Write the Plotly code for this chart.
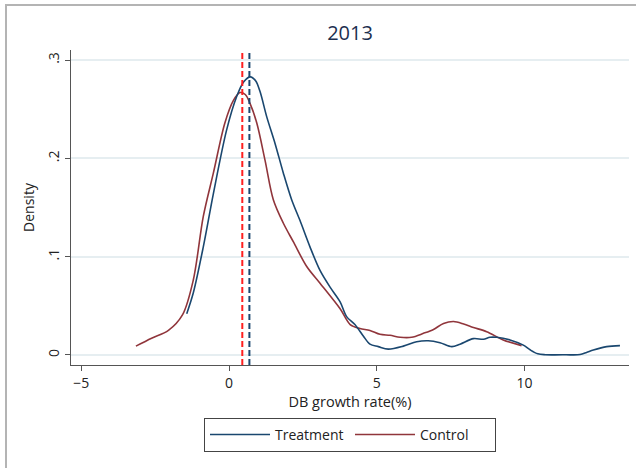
import plotly.graph_objects as go

# ---- data ----
treat_x = [-1.43, -1.21, -0.87, -0.53, -0.08, 0.26, 0.50, 0.72, 0.90, 1.05, 1.28, 1.56, 1.84,
           2.12, 2.40, 2.74, 3.08, 3.42, 3.76, 3.98, 4.26, 4.55, 4.77, 5.05, 5.39, 5.90,
           6.35, 6.74, 7.14, 7.54, 7.82, 8.27, 8.61, 8.83, 9.06, 9.51, 9.96, 10.20, 10.45,
           10.7, 11.4, 11.88, 12.10, 12.33, 12.78, 13.23]
treat_y = [0.042, 0.063, 0.110, 0.164, 0.229, 0.263, 0.278, 0.283, 0.279, 0.268, 0.242, 0.215,
           0.185, 0.158, 0.137, 0.110, 0.086, 0.069, 0.054, 0.039, 0.031, 0.019, 0.011, 0.0085,
           0.006, 0.009, 0.0135, 0.0145, 0.0125, 0.0085, 0.011, 0.0166, 0.016, 0.018, 0.018,
           0.0153, 0.010, 0.005, 0.0012, 0.0003, 0.0002, 0.0004, 0.0025, 0.005, 0.0085, 0.0095]

ctrl_x = [-3.15, -2.62, -2.05, -1.57, -1.21, -0.87, -0.53, -0.14, 0.15, 0.37, 0.55, 0.71,
          0.94, 1.22, 1.50, 1.84, 2.18, 2.63, 3.08, 3.76, 4.10, 4.43, 4.77, 5.11, 5.45,
          5.79, 6.18, 6.58, 6.92, 7.26, 7.60, 7.94, 8.27, 8.72, 9.28, 9.90]
ctrl_y = [0.009, 0.017, 0.025, 0.041, 0.076, 0.141, 0.185, 0.236, 0.259, 0.267, 0.265, 0.256,
          0.236, 0.198, 0.158, 0.134, 0.115, 0.090, 0.073, 0.047, 0.031, 0.027, 0.025, 0.021,
          0.020, 0.018, 0.018, 0.022, 0.026, 0.032, 0.034, 0.0315, 0.028, 0.0237, 0.0153,
          0.0095]

means = {"Control": 0.45, "Treatment": 0.69}
y_ticks = [0, 0.1, 0.2, 0.3]
y_tick_text = ["0", ".1", ".2", ".3"]
x_ticks = [-5, 0, 5, 10]
x_tick_text = ["\u22125", "0", "5", "10"]

NAVY = "#1a476f"
MAROON = "#90353b"
FONT = "Open Sans"

fig = go.Figure()
fig.add_trace(go.Scatter(x=ctrl_x, y=ctrl_y, mode="lines", name="Control",
                         line=dict(color=MAROON, width=1.6, shape="spline", smoothing=0.9),
                         legendrank=2))
fig.add_trace(go.Scatter(x=treat_x, y=treat_y, mode="lines", name="Treatment",
                         line=dict(color=NAVY, width=1.6, shape="spline", smoothing=0.9),
                         legendrank=1))

fig.add_vline(x=means["Control"], line=dict(color="#ff2020", width=2, dash="6px,3px"))
fig.add_vline(x=means["Treatment"], line=dict(color=NAVY, width=2, dash="6px,3px"))

# outer frame of the exported graph
fig.add_shape(type="rect", xref="paper", yref="paper",
              x0=-0.1165, x1=1.2, y0=-0.5, y1=1.1429,
              line=dict(color="#b4b4b4", width=2), layer="below")

fig.update_layout(
    width=636, height=468,
    margin=dict(l=71, r=7, t=50, b=103),
    paper_bgcolor="white", plot_bgcolor="white",
    font=dict(family=FONT, size=14, color="#222"),
    title=dict(text="2013", x=0.5, xref="paper", xanchor="center",
               y=1 - 33 / 468, yanchor="middle",
               font=dict(family=FONT, size=20, color="#1c2f4f")),
    showlegend=True,
    legend=dict(orientation="h", x=0.5, xanchor="center", y=-0.168, yanchor="top",
                bordercolor="#444", borderwidth=1, font=dict(size=14, color="#222"),
                itemwidth=60, traceorder="normal", entrywidth=70),
    xaxis=dict(range=[-5.347, 13.536], tickvals=x_ticks, ticktext=x_tick_text,
               showgrid=False, zeroline=False, showline=True, linecolor="#555", linewidth=1.2,
               ticks="outside", ticklen=5, tickcolor="#555",
               tickfont=dict(size=14),
               title=dict(text="DB growth rate(%)", standoff=4, font=dict(size=14.5))),
    yaxis=dict(range=[-0.0102, 0.3103], tickvals=y_ticks, ticktext=y_tick_text, tickangle=-90,
               showgrid=True, gridcolor="#e6eef1", gridwidth=1.5, zeroline=False,
               showline=True, linecolor="#555", linewidth=1.2,
               ticks="outside", ticklen=5, tickcolor="#555",
               tickfont=dict(size=14),
               title=dict(text="Density", standoff=6, font=dict(size=14))),
)

fig.write_html("out.html", config={"displayModeBar": False},
               post_script="document.body.style.margin='0';document.body.style.overflow='hidden';")
